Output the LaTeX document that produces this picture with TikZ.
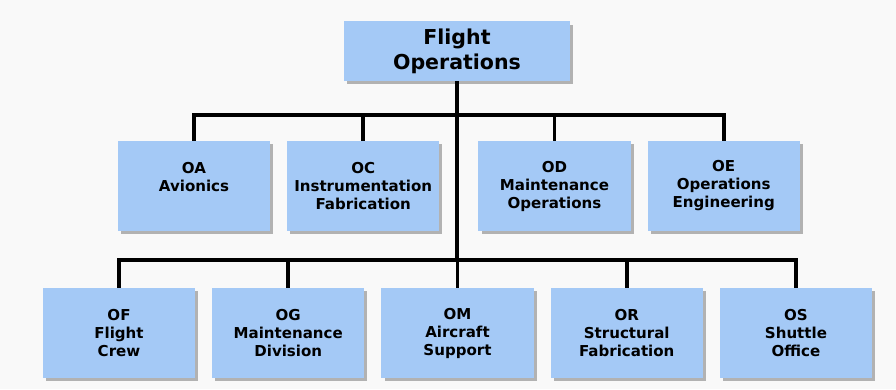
\documentclass[tikz,border=0pt]{standalone}
\usepackage{fontspec}
\setmainfont{DejaVu Sans}
\usetikzlibrary{shadows}
\definecolor{boxblue}{RGB}{164,201,246}
\definecolor{pagegray}{RGB}{249,249,249}
\tikzstyle{head} = [rectangle, minimum width=5.65cm, minimum height=1.475cm, align=center, fill=boxblue, drop shadow={shadow xshift=0.08cm, shadow yshift=-0.08cm, fill=gray!85!black}, font=\fontsize{14.6}{17.7}\selectfont\bfseries]
\tikzstyle{unit} = [rectangle, minimum width=3.8cm, minimum height=2.25cm, align=center, fill=boxblue, drop shadow={shadow xshift=0.08cm, shadow yshift=-0.08cm, fill=gray!85!black}, font=\fontsize{10.7}{12.8}\selectfont\bfseries]
\tikzstyle{link} = [line width=2.6pt]

\begin{document}
\begin{tikzpicture}[x=0.025cm, y=-0.025cm, node distance=4.23cm]

\fill [pagegray] (0,0) rectangle (896,389);

\coordinate (bus1) at (458,115);
\coordinate (bus2) at (458,260);

\node (fo) [head] at (457,51) {Flight\\Operations};

\node (oa) [unit] at (194,186) {OA\\Avionics\\~};
\node (oc) [unit, right of=oa] {OC\\Instrumentation\\Fabrication};
\node (od) [unit, right of=oc, xshift=0.55cm] {OD\\Maintenance\\Operations};
\node (oe) [unit, right of=od] {OE\\Operations\\Engineering};

\node (of) [unit] at (119,333) {OF\\Flight\\Crew};
\node (og) [unit, right of=of] {OG\\Maintenance\\Division};
\node (om) [unit, right of=og] {OM\\Aircraft\\Support};
\node (or) [unit, right of=om] {OR\\Structural\\Fabrication};
\node (os) [unit, right of=or] {OS\\Shuttle\\Office};

\draw [link] (fo.south) -- (fo.south |- bus2);
\draw [link] (oa.north) -- (oa.north |- bus1) -- (oe.north |- bus1) -- (oe.north);
\draw [link] (of.north) -- (of.north |- bus2) -- (os.north |- bus2) -- (os.north);
\foreach \n in {oc,od}
  \draw [link] (\n.north) -- (\n.north |- bus1);
\foreach \n in {og,om,or}
  \draw [link] (\n.north) -- (\n.north |- bus2);

\end{tikzpicture}
\end{document}
